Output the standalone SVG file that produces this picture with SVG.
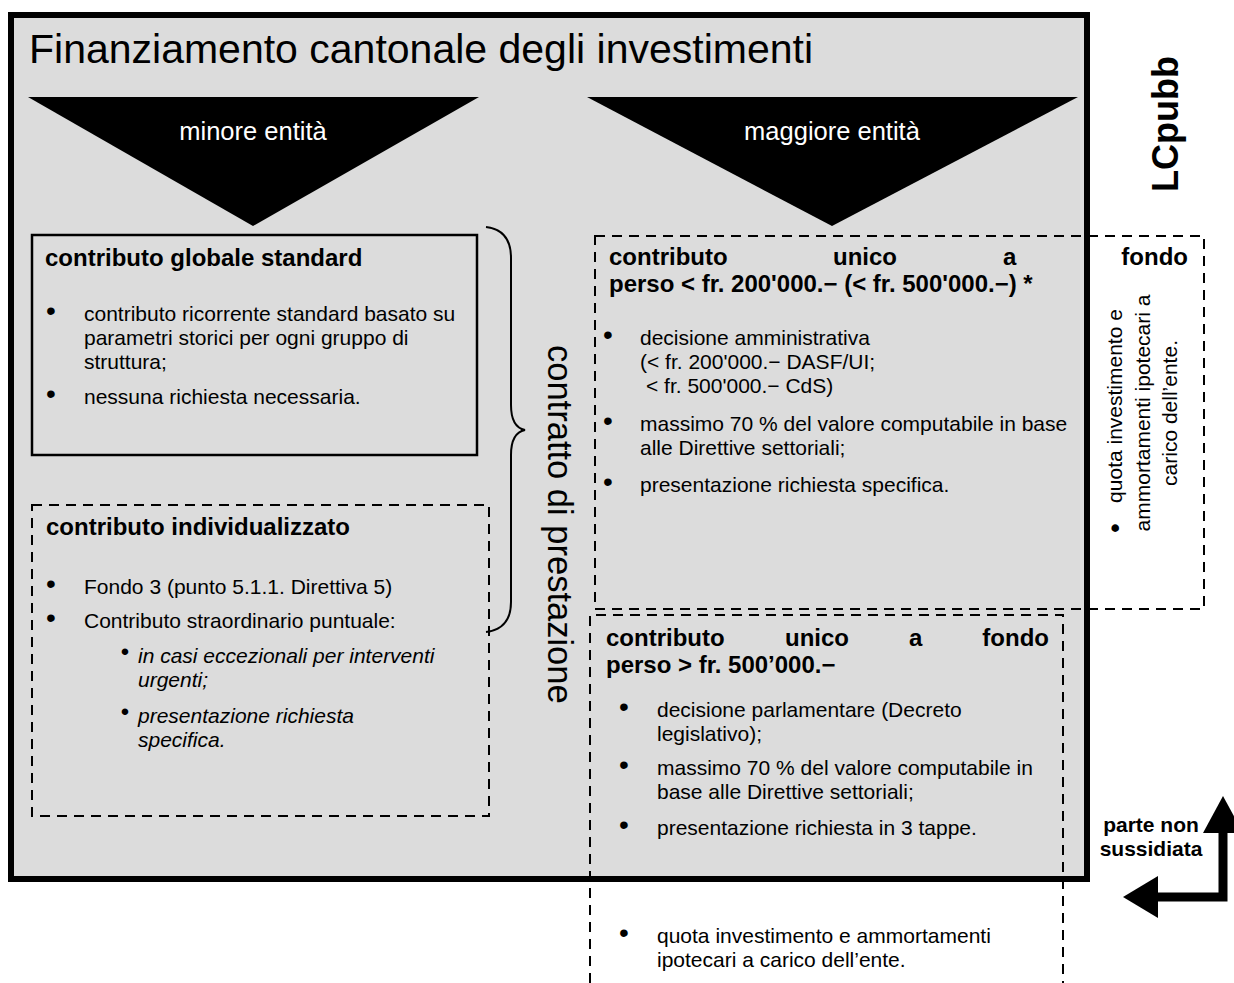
<svg xmlns="http://www.w3.org/2000/svg" width="1234" height="983" viewBox="0 0 1234 983">
<style>
text{font-family:"Liberation Sans",Arial,Helvetica,sans-serif;fill:#000}
.h{font-weight:bold;font-size:24px}
.p{font-size:21px}
.it{font-style:italic}
.bu{font-size:28px;text-anchor:middle}
.bs{font-size:24px;text-anchor:middle}
.dash{fill:none;stroke:#000;stroke-width:2;stroke-dasharray:10 7}
.w{fill:#fff}
.ln{fill:none;stroke:#000}
</style>
<rect width="1234" height="983" fill="#fff"/>
<g id="frame">
<rect x="11" y="15" width="1076" height="864" fill="#dcdcdc" stroke="#000" stroke-width="6"/>
<text x="29" y="63" font-size="41">Finanziamento cantonale degli investimenti</text>
</g>
<g id="minore">
<polygon points="28,97 479,97 253,226" fill="#000"/>
<text class="w" x="253" y="140" font-size="25.5" text-anchor="middle">minore entità</text>
</g>
<g id="maggiore">
<polygon points="587,97 1078,97 832,226" fill="#000"/>
<text class="w" x="832" y="140" font-size="25.5" text-anchor="middle">maggiore entità</text>
</g>
<g id="lcpubb">
<text transform="translate(1178,192) rotate(-90)" font-size="36" font-weight="bold">LCpubb</text>
</g>
<g id="standard">
<rect x="32" y="235" width="445" height="220" fill="none" stroke="#000" stroke-width="2.5"/>
<text class="h" x="45" y="266">contributo globale standard</text>
<text class="bu" x="51" y="320">•</text>
<text class="p" x="84" y="321">contributo ricorrente standard basato su</text>
<text class="p" x="84" y="345">parametri storici per ogni gruppo di</text>
<text class="p" x="84" y="369">struttura;</text>
<text class="bu" x="51" y="403">•</text>
<text class="p" x="84" y="404">nessuna richiesta necessaria.</text>
</g>
<g id="individualizzato">
<rect class="dash" x="32" y="505" width="457" height="311"/>
<text class="h" x="46" y="535">contributo individualizzato</text>
<text class="bu" x="51" y="593">•</text>
<text class="p" x="84" y="594">Fondo 3 (punto 5.1.1. Direttiva 5)</text>
<text class="bu" x="51" y="627">•</text>
<text class="p" x="84" y="628">Contributo straordinario puntuale:</text>
<text class="bs" x="125" y="660">•</text>
<text class="p it" x="138" y="663">in casi eccezionali per interventi</text>
<text class="p it" x="138" y="687">urgenti;</text>
<text class="bs" x="125" y="720">•</text>
<text class="p it" x="138" y="723">presentazione richiesta</text>
<text class="p it" x="138" y="747">specifica.</text>
</g>
<g id="contratto">
<text transform="translate(548,345) rotate(90)" font-size="34.5">contratto di prestazione</text>
</g>
<g id="unico-minore">
<rect class="dash" x="595" y="236" width="609" height="373"/>
<text class="h" x="609" y="265">contributo</text>
<text class="h" x="833" y="265">unico</text>
<text class="h" x="1003" y="265">a</text>
<text class="h" x="1188" y="265" text-anchor="end">fondo</text>
<text class="h" x="609" y="292">perso &lt; fr. 200'000.− (&lt; fr. 500'000.−) *</text>
<text class="bu" x="608" y="344">•</text>
<text class="p" x="640" y="345">decisione amministrativa</text>
<text class="p" x="640" y="369">(&lt; fr. 200'000.− DASF/UI;</text>
<text class="p" x="646" y="393">&lt; fr. 500'000.− CdS)</text>
<text class="bu" x="608" y="430">•</text>
<text class="p" x="640" y="431">massimo 70 % del valore computabile in base</text>
<text class="p" x="640" y="455">alle Direttive settoriali;</text>
<text class="bu" x="608" y="491">•</text>
<text class="p" x="640" y="492">presentazione richiesta specifica.</text>
<text class="bu" transform="translate(1124,528) rotate(-90)">•</text>
<text class="p" transform="translate(1122,406) rotate(-90)" text-anchor="middle">quota investimento e</text>
<text class="p" transform="translate(1150,413) rotate(-90)" text-anchor="middle">ammortamenti ipotecari a</text>
<text class="p" transform="translate(1177,413) rotate(-90)" text-anchor="middle">carico dell’ente.</text>
</g>
<g id="unico-maggiore">
<path class="dash" d="M590,983 V615 H1063 V983"/>
<text class="h" x="606" y="646">contributo</text>
<text class="h" x="785" y="646">unico</text>
<text class="h" x="909" y="646">a</text>
<text class="h" x="1049" y="646" text-anchor="end">fondo</text>
<text class="h" x="606" y="673">perso &gt; fr. 500’000.−</text>
<text class="bu" x="624" y="716">•</text>
<text class="p" x="657" y="717">decisione parlamentare (Decreto</text>
<text class="p" x="657" y="741">legislativo);</text>
<text class="bu" x="624" y="774">•</text>
<text class="p" x="657" y="775">massimo 70 % del valore computabile in</text>
<text class="p" x="657" y="799">base alle Direttive settoriali;</text>
<text class="bu" x="624" y="834">•</text>
<text class="p" x="657" y="835">presentazione richiesta in 3 tappe.</text>
<text class="bu" x="624" y="942">•</text>
<text class="p" x="657" y="943">quota investimento e ammortamenti</text>
<text class="p" x="657" y="967">ipotecari a carico dell’ente.</text>
</g>
<g id="parte-non">
<text x="1151" y="832" font-size="21" font-weight="bold" text-anchor="middle">parte non</text>
<text x="1151" y="856" font-size="21" font-weight="bold" text-anchor="middle">sussidiata</text>
</g>
<g id="connectors">
<path class="ln" stroke-width="2" d="M486,227 C503,229 511,240 511,258 V405 C511,420 515,428 525,430 C515,432 511,440 511,455 V602 C511,620 503,630 486,632"/>
<path class="ln" stroke-width="9" d="M1156,897 H1223 V830"/>
<polygon points="1223,796 1203,833 1243,833" fill="#000"/>
<polygon points="1123,897 1158,876 1158,918" fill="#000"/>
</g>
</svg>
